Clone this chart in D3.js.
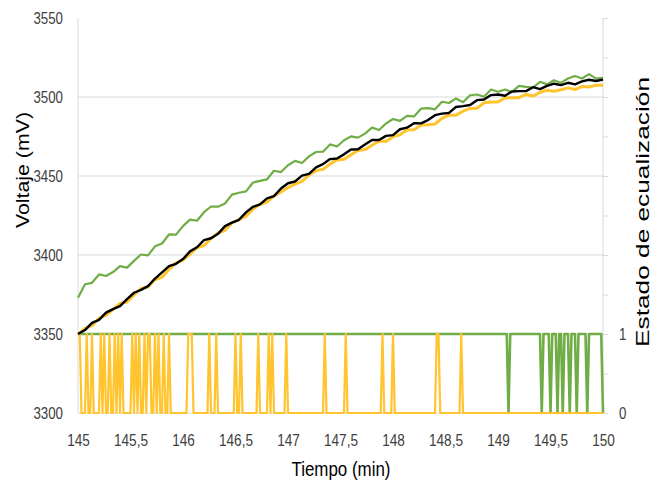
<!DOCTYPE html>
<html><head><meta charset="utf-8">
<script src="https://cdn.jsdelivr.net/npm/d3@7/dist/d3.min.js"></script>
<style>body{margin:0;background:#fff}</style>
</head><body>
<svg id="c" width="662" height="488"></svg>
<script>
// ---- data ----
const startMin = 145;
const voltStepSec = 4; // voltage series sampled every 4 s
const blackV = [3350.0,3352.5,3357.0,3358.9,3363.5,3365.7,3367.6,3372.1,3376.1,3377.9,3380.3,3385.1,3389.0,3392.9,3394.4,3397.4,3402.3,3404.9,3409.4,3410.6,3413.4,3418.3,3420.5,3422.3,3427.0,3430.5,3432.0,3435.8,3437.3,3442.1,3445.4,3446.5,3450.2,3451.4,3455.5,3457.5,3460.7,3461.1,3463.7,3466.8,3466.9,3470.0,3472.8,3472.8,3475.4,3475.9,3479.6,3480.6,3483.4,3483.3,3485.4,3488.5,3489.5,3489.9,3493.7,3494.2,3494.9,3498.0,3498.4,3501.2,3501.6,3500.8,3503.5,3503.7,3503.7,3506.2,3505.0,3507.0,3508.4,3507.5,3509.0,3508.0,3509.9,3510.9,3510.1,3511.0];
const greenV = [3373.0,3381.5,3382.4,3387.7,3386.7,3389.2,3393.0,3392.0,3396.3,3400.3,3399.8,3405.5,3407.3,3413.0,3412.9,3418.3,3422.4,3421.7,3427.1,3430.7,3430.6,3432.6,3438.2,3439.4,3440.3,3445.9,3446.9,3447.9,3453.3,3452.5,3456.8,3459.6,3458.2,3462.4,3465.2,3465.4,3470.0,3468.7,3472.6,3475.1,3474.3,3476.8,3480.6,3479.1,3483.2,3486.1,3484.9,3488.0,3487.7,3492.6,3493.0,3492.2,3497.0,3496.2,3499.1,3496.7,3501.1,3501.6,3500.2,3504.7,3503.3,3504.7,3503.2,3507.0,3506.4,3506.0,3509.6,3508.0,3510.6,3508.9,3511.7,3513.3,3511.7,3514.5,3511.6,3512.2];
const yellowV = [3349.7,3353.6,3355.3,3360.0,3361.8,3365.6,3369.3,3370.3,3374.7,3378.8,3379.8,3384.3,3386.0,3390.9,3395.0,3396.8,3400.6,3404.6,3405.9,3410.4,3413.8,3415.6,3420.4,3422.4,3424.5,3429.0,3432.1,3433.5,3437.4,3439.8,3442.7,3444.9,3446.6,3450.6,3453.4,3454.2,3457.5,3460.2,3460.6,3463.5,3466.2,3466.7,3469.5,3472.1,3471.9,3474.9,3476.1,3479.1,3479.2,3482.2,3482.5,3482.9,3486.5,3488.5,3488.5,3491.0,3492.8,3492.9,3496.3,3496.9,3496.9,3499.4,3499.5,3499.6,3501.6,3500.6,3502.9,3504.3,3503.6,3504.6,3505.8,3504.7,3506.7,3506.3,3507.5,3507.5];
// equalization state, sampled every second (0..300 s)
const stateSeconds = 300;
const yellowOnSec = [0,1,5,8,13,15,18,21,23,25,31,33,35,38,40,41,44,46,49,52,63,64,65,75,79,90,93,103,109,111,119,141,153,174,180,205,206,219];
const greenOffSec = [246,265,270,274,277,281,285,291,300];
const xTicks = [145,145.5,146,146.5,147,147.5,148,148.5,149,149.5,150];
const yTicks = [3300,3350,3400,3450,3500,3550];
const rTicks = [0,0.5,1,1.5,2,2.5,3,3.5,4,4.5,5];
const rLabels = [0,1];

// ---- build tables ----
const voltRows = blackV.map((v,i)=>({t:startMin+i*voltStepSec/60, black:v, green:greenV[i], yellow:yellowV[i]}));
const ySet = new Set(yellowOnSec), gSet = new Set(greenOffSec);
const stateRows = d3.range(stateSeconds+1).map(s=>({t:startMin+s/60, y:ySet.has(s)?1:0, g:gSet.has(s)?0:1}));

// ---- scales ----
const L=78,R=603,T=18,B=413;
const x = d3.scaleLinear().domain([145,150]).range([L,R]);
const y = d3.scaleLinear().domain([3300,3550]).range([B,T]);
const y2 = d3.scaleLinear().domain([0,5]).range([B,T]);
const svg = d3.select('#c');
const sans = "'Liberation Sans',Arial,sans-serif";
const fmt = d=>String(d).replace('.',',');
function condense(sel, f){
  sel.each(function(){
    const w = this.getComputedTextLength();
    if(w>0){ d3.select(this).attr('textLength', w*f).attr('lengthAdjust','spacingAndGlyphs'); }
  });
}

// gridlines
svg.append('g').selectAll('line').data(yTicks.filter(v=>v>3300&&v<3550)).join('line')
  .attr('x1',L).attr('x2',R).attr('y1',d=>y(d)).attr('y2',d=>y(d))
  .attr('stroke','#d9d9d9').attr('stroke-width',1);
svg.append('line').attr('x1',L).attr('x2',L).attr('y1',T).attr('y2',B).attr('stroke','#d9d9d9');
svg.append('line').attr('x1',R).attr('x2',R).attr('y1',T).attr('y2',B).attr('stroke','#d9d9d9');
svg.append('line').attr('x1',L).attr('x2',R).attr('y1',B).attr('y2',B).attr('stroke','#d9d9d9');

// left axis labels
const gl = svg.append('g').attr('transform',`translate(${L},0)`)
  .call(d3.axisLeft(y).tickValues(yTicks).tickSize(0).tickPadding(15).tickFormat(d=>d));
gl.select('.domain').remove();
gl.selectAll('text').attr('font-family',sans).attr('font-size',17).attr('fill','#404040').call(condense,0.78);

// right axis
const gr = svg.append('g').attr('transform',`translate(${R},0)`)
  .call(d3.axisRight(y2).tickValues(rTicks).tickSize(5).tickPadding(11).tickFormat(d=>rLabels.includes(d)?d:''));
gr.select('.domain').remove();
gr.selectAll('line').attr('stroke','#d9d9d9');
gr.selectAll('text').attr('font-family',sans).attr('font-size',17).attr('fill','#404040').call(condense,0.78);

// bottom axis
const gb = svg.append('g').attr('transform',`translate(0,${B})`)
  .call(d3.axisBottom(x).tickValues(xTicks).tickSize(0).tickPadding(21).tickFormat(fmt));
gb.select('.domain').remove();
gb.selectAll('text').attr('font-family',sans).attr('font-size',17).attr('fill','#404040').call(condense,0.8);

// titles
svg.append('text').attr('transform','translate(29,170) rotate(-90)').attr('text-anchor','middle')
  .attr('font-family',sans).attr('font-size',18).attr('fill','#000')
  .attr('textLength',116).attr('lengthAdjust','spacingAndGlyphs').text('Voltaje (mV)');
svg.append('text').attr('transform','translate(649,212) rotate(-90)').attr('text-anchor','middle')
  .attr('font-family',sans).attr('font-size',18).attr('fill','#000')
  .attr('textLength',270).attr('lengthAdjust','spacingAndGlyphs').text('Estado de ecualización');
svg.append('text').attr('x',341).attr('y',476).attr('text-anchor','middle')
  .attr('font-family',sans).attr('font-size',20).attr('fill','#000')
  .attr('textLength',99).attr('lengthAdjust','spacingAndGlyphs').text('Tiempo (min)');

// state lines
const sLine = key=>d3.line().x(d=>x(d.t)).y(d=>y2(d[key]));
svg.append('path').datum(stateRows).attr('d',sLine('g')).attr('fill','none')
  .attr('stroke','#70AD47').attr('stroke-width',2.6).attr('stroke-linejoin','round');
svg.append('path').datum(stateRows).attr('d',sLine('y')).attr('fill','none')
  .attr('stroke','#FFC42E').attr('stroke-width',2.2).attr('stroke-linejoin','round');

// voltage lines
const vLine = key=>d3.line().x(d=>x(d.t)).y(d=>y(d[key]));
svg.append('path').datum(voltRows).attr('d',vLine('green')).attr('fill','none')
  .attr('stroke','#70AD47').attr('stroke-width',2.2).attr('stroke-linejoin','round');
svg.append('path').datum(voltRows).attr('d',vLine('yellow')).attr('fill','none')
  .attr('stroke','#FFC42E').attr('stroke-width',3).attr('stroke-linejoin','round');
svg.append('path').datum(voltRows).attr('d',vLine('black')).attr('fill','none')
  .attr('stroke','#000').attr('stroke-width',2.4).attr('stroke-linejoin','round');
</script>
</body></html>
